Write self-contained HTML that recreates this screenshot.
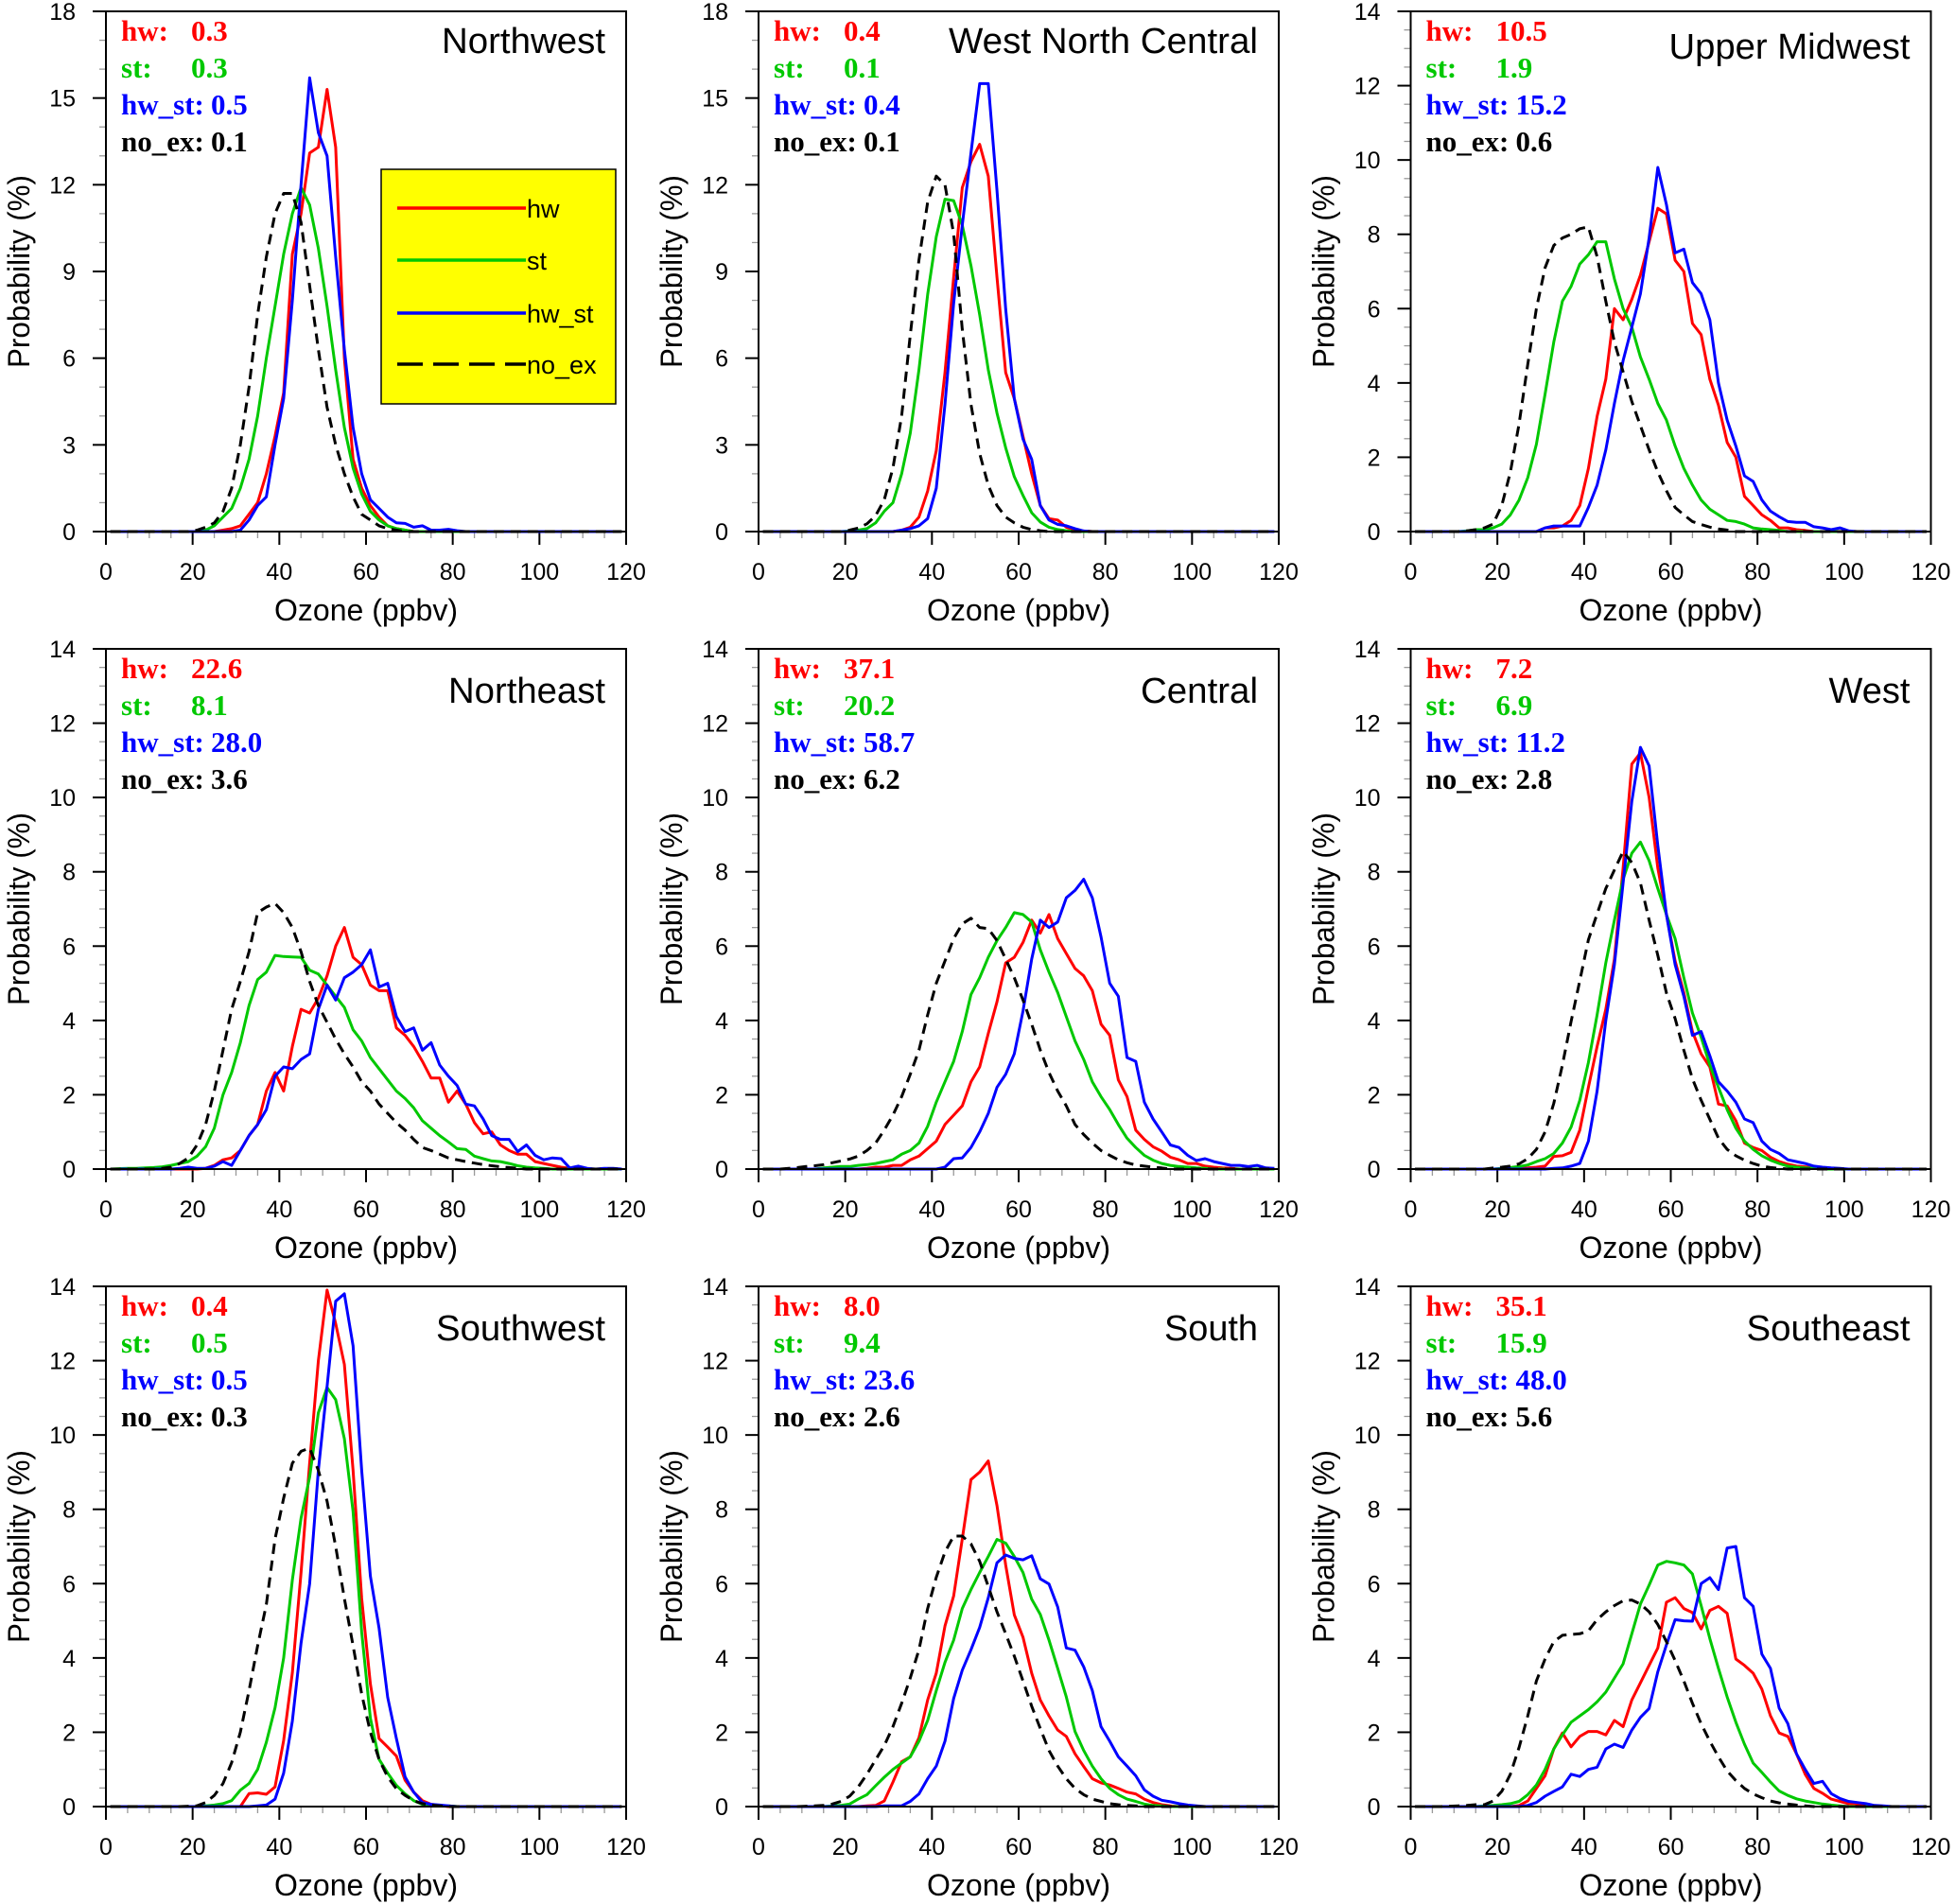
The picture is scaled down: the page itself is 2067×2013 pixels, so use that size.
<!DOCTYPE html>
<html><head><meta charset="utf-8"><title>Ozone PDFs</title>
<style>html,body{margin:0;padding:0;background:#fff}svg{display:block}</style></head>
<body>
<svg id="fig" xmlns="http://www.w3.org/2000/svg" width="2067" height="2013" viewBox="0 0 2067 2013">
<rect x="0" y="0" width="2067" height="2013" fill="#fff"/>
</svg>
<script>
// ---- data (2 ppbv bins centred at 1,3,...,119) ----
const regions = ["Northwest","West North Central","Upper Midwest","Northeast","Central","West","Southwest","South","Southeast"];
const yMaxes = [18,18,14,14,14,14,14,14,14];
const xTicks = [0,20,40,60,80,100,120];
const statHw   = ["0.3","0.4","10.5","22.6","37.1","7.2","0.4","8.0","35.1"];
const statSt   = ["0.3","0.1","1.9","8.1","20.2","6.9","0.5","9.4","15.9"];
const statHwSt = ["0.5","0.4","15.2","28.0","58.7","11.2","0.5","23.6","48.0"];
const statNoEx = ["0.1","0.1","0.6","3.6","6.2","2.8","0.3","2.6","5.6"];
const seriesNames = ["hw","st","hw_st","no_ex"];

const startHw   = [27,33,31,23,25,25,31,25,25];
const startSt   = [23,21,13,3,15,21,23,17,17];
const startHwSt = [31,33,31,17,43,33,35,29,27];
const startNoEx = [21,21,13,13,7,19,19,11,9];

const nwHw = [0.05,0.1,0.2,0.6,1.0,2.0,3.3,4.8,9.6,11,13.1,13.3,15.3,13.3,6,2.5,1.5,0.9,0.5,0.2,0.1,0.05];
const nwSt = [0.05,0.2,0.5,0.8,1.5,2.5,4,6,7.8,9.6,11,11.9,11.3,9.8,7.8,5.6,3.6,2.2,1.3,0.7,0.4,0.2,0.1,0.05];
const nwHwSt = [0.05,0.4,0.9,1.2,3.0,4.6,8,12,15.7,13.8,13,9.5,6.3,3.6,2.0,1.1,0.8,0.5,0.3,0.28,0.15,0.2,0.05,0.05,0.08,0.03];
const nwNoEx = [0.05,0.15,0.3,0.7,1.5,3.0,5.0,7.5,9.5,11,11.7,11.7,10.7,8.5,6.3,4.3,3.0,2.0,1.2,0.6,0.4,0.2,0.1,0.05];

const wncHw = [0.05,0.15,0.5,1.4,2.8,5.5,8.8,11.9,12.8,13.4,12.3,8.8,5.5,4.6,3.3,2.0,0.9,0.45,0.4,0.15,0.05,0.02];
const wncSt = [0.02,0.05,0.1,0.3,0.7,1.0,2.0,3.4,5.6,8.2,10.2,11.5,11.45,10.6,9.2,7.5,5.6,4.1,2.9,1.9,1.25,0.65,0.33,0.15,0.07,0.03];
const wncHwSt = [0.05,0.1,0.2,0.45,1.5,4.4,7.9,10.6,13.1,15.5,15.5,11.8,7.7,4.6,3.2,2.5,0.9,0.4,0.25,0.2,0.1,0.02];
const wncNoEx = [0.05,0.12,0.27,0.55,1.1,2.2,4.0,6.8,9.4,11.4,12.3,12.0,10.3,7.0,4.4,2.7,1.6,0.9,0.5,0.3,0.15,0.07,0.03];

const umHw = [0.1,0.1,0.15,0.3,0.7,1.7,3.1,4.1,6.0,5.7,6.25,6.9,7.8,8.7,8.55,7.3,7.0,5.6,5.3,4.1,3.4,2.4,2.0,0.95,0.7,0.45,0.3,0.1,0.1,0.05,0.03];
const umSt = [0.02,0.05,0.05,0.1,0.2,0.45,0.85,1.45,2.35,3.7,5.1,6.2,6.6,7.2,7.45,7.8,7.8,6.8,6.0,5.5,4.7,4.1,3.45,3.0,2.3,1.7,1.25,0.85,0.6,0.45,0.3,0.27,0.2,0.1,0.07,0.05,0.03];
const umHwSt = [0.1,0.15,0.15,0.15,0.15,0.65,1.25,2.2,3.45,4.6,5.5,6.4,7.9,9.8,8.8,7.5,7.6,6.7,6.4,5.7,4.0,3.0,2.3,1.5,1.35,0.85,0.55,0.4,0.27,0.25,0.25,0.13,0.1,0.05,0.1,0.02];
const umNoEx = [0.02,0.05,0.1,0.2,0.7,1.6,2.9,4.5,6.0,7.1,7.7,7.9,8.0,8.15,8.2,7.4,6.2,5.1,4.3,3.5,2.85,2.2,1.6,1.1,0.65,0.45,0.27,0.19,0.12,0.07,0.04];

const neHw = [0.02,0.1,0.25,0.3,0.5,0.9,1.2,2.1,2.6,2.1,3.3,4.3,4.2,4.6,5.2,6.0,6.5,5.7,5.5,4.95,4.8,4.8,3.8,3.6,3.3,2.9,2.45,2.45,1.8,2.1,1.75,1.25,0.95,1.0,0.65,0.5,0.4,0.4,0.2,0.15,0.1,0.05,0.02];
const neSt = [0.01,0.02,0.02,0.03,0.04,0.06,0.1,0.15,0.2,0.35,0.6,1.1,2.0,2.6,3.4,4.4,5.1,5.3,5.75,5.72,5.71,5.7,5.35,5.25,4.95,4.65,4.35,3.75,3.45,3.0,2.7,2.4,2.1,1.9,1.65,1.3,1.1,0.9,0.73,0.55,0.53,0.35,0.28,0.22,0.2,0.15,0.09,0.05,0.03,0.02];
const neHwSt = [0.02,0.05,0.02,0.02,0.08,0.2,0.1,0.5,0.9,1.2,1.6,2.5,2.75,2.7,2.95,3.1,4.3,4.95,4.55,5.15,5.3,5.5,5.9,4.9,5.0,4.1,3.7,3.8,3.2,3.4,2.8,2.5,2.25,1.75,1.7,1.35,0.9,0.8,0.8,0.47,0.65,0.37,0.25,0.3,0.28,0.03,0.08,0.02,0,0.02,0.02];
const neNoEx = [0.02,0.05,0.15,0.3,0.65,1.2,2.1,3.2,4.3,5.05,5.85,6.9,7.05,7.15,6.9,6.5,5.85,5.05,4.4,3.95,3.5,3.1,2.75,2.35,2.1,1.75,1.5,1.25,1.05,0.8,0.58,0.5,0.4,0.3,0.25,0.2,0.16,0.12,0.09,0.06,0.04,0.02];

const ceHw = [0.02,0.05,0.05,0.1,0.1,0.25,0.35,0.55,0.75,1.2,1.45,1.7,2.35,2.75,3.65,4.5,5.55,5.7,6.1,6.7,6.35,6.85,6.2,5.8,5.4,5.2,4.8,3.9,3.6,2.4,1.95,1.05,0.8,0.6,0.48,0.32,0.25,0.15,0.15,0.08,0.05,0.03,0.02];
const ceSt = [0.03,0.05,0.07,0.07,0.1,0.12,0.15,0.2,0.25,0.4,0.5,0.7,1.15,1.8,2.35,2.9,3.7,4.7,5.15,5.7,6.15,6.5,6.9,6.85,6.65,5.9,5.3,4.75,4.1,3.45,2.95,2.35,1.95,1.6,1.2,0.83,0.58,0.37,0.24,0.15,0.1,0.07,0.05,0.03,0.02];
const ceHwSt = [0.05,0.28,0.3,0.58,1.0,1.5,2.2,2.55,3.1,4.25,5.65,6.7,6.5,6.65,7.3,7.5,7.8,7.3,6.25,5.0,4.65,3.0,2.9,1.8,1.35,1.0,0.65,0.58,0.37,0.23,0.28,0.2,0.15,0.1,0.1,0.07,0.1,0.03,0.02];
const ceNoEx = [0.02,0.04,0.07,0.09,0.12,0.17,0.22,0.27,0.35,0.5,0.7,1.05,1.45,1.95,2.55,3.2,4.15,5.0,5.6,6.2,6.6,6.75,6.5,6.47,6.15,5.65,5.15,4.55,3.9,3.2,2.6,2.1,1.7,1.2,0.93,0.7,0.5,0.37,0.25,0.17,0.11,0.08,0.05,0.03];

const weHw = [0.02,0.03,0.05,0.08,0.34,0.36,0.45,1.05,2.2,3.3,4.3,5.65,8.1,10.9,11.2,10.0,8.1,6.85,5.6,4.75,3.7,3.1,2.75,1.75,1.7,1.3,0.7,0.58,0.5,0.32,0.2,0.13,0.08,0.06,0.04,0.02];
const weSt = [0.02,0.04,0.07,0.11,0.2,0.28,0.42,0.7,1.13,1.85,2.87,4.15,5.55,6.7,7.8,8.5,8.8,8.3,7.55,6.85,6.2,5.15,4.2,3.55,2.8,2.2,1.6,1.1,0.75,0.53,0.36,0.24,0.15,0.08,0.05,0.03,0.02];
const weHwSt = [0.02,0.03,0.08,0.15,0.75,2.1,4.0,5.5,7.7,9.9,11.35,10.85,8.7,6.85,5.5,4.65,3.6,3.7,3.05,2.35,2.1,1.8,1.35,1.25,0.75,0.53,0.42,0.25,0.2,0.15,0.08,0.05,0.03,0.02];
const weNoEx = [0.03,0.05,0.08,0.14,0.28,0.53,1.0,1.77,2.8,3.97,5.07,6.17,6.87,7.55,8.05,8.55,8.25,7.7,6.7,5.75,4.74,4.05,3.2,2.43,1.85,1.34,0.83,0.53,0.36,0.24,0.15,0.08,0.04,0.02];

const swHw = [0.0,0.35,0.37,0.33,0.53,1.78,3.6,6.3,9.25,12.0,13.9,13.0,11.9,9.05,5.6,3.3,1.83,1.6,1.36,0.71,0.39,0.16,0.06,0.03];
const swSt = [0.02,0.04,0.08,0.16,0.44,0.62,1.0,1.73,2.66,4.0,6.1,7.76,8.87,10.6,11.28,10.95,9.9,7.94,4.7,2.38,1.27,0.9,0.57,0.34,0.16,0.06,0.03,0.02,0.02];
const swHwSt = [0.02,0.04,0.2,0.9,2.3,4.4,6.0,9.05,11.3,13.6,13.8,12.4,9.05,6.2,4.8,2.94,1.83,0.8,0.39,0.11,0.06,0.04,0.02];
const swNoEx = [0.01,0.02,0.11,0.3,0.62,1.18,2.0,3.12,4.33,5.44,7.2,8.3,9.24,9.56,9.65,9.05,8.22,7.0,5.6,4.33,3.03,2.0,1.27,0.8,0.48,0.3,0.16,0.08,0.04,0.02];

const soHw = [0.02,0.03,0.15,0.66,1.21,1.34,1.85,2.87,3.59,4.86,5.67,7.2,8.8,9.0,9.3,8.1,6.5,5.16,4.56,3.59,2.87,2.44,2.06,1.89,1.42,1.08,0.75,0.64,0.58,0.49,0.39,0.34,0.2,0.11,0.05,0.02];
const soSt = [0.02,0.03,0.07,0.2,0.32,0.56,0.79,1.0,1.17,1.34,1.76,2.32,3.12,3.88,4.48,5.33,5.84,6.3,6.73,7.19,7.09,6.73,6.3,5.58,5.17,4.48,3.72,2.95,2.02,1.51,1.09,0.75,0.49,0.32,0.2,0.14,0.07,0.03,0.02];
const soHwSt = [0.02,0.02,0.02,0.14,0.34,0.75,1.09,1.76,2.91,3.67,4.22,4.82,5.62,6.56,6.77,6.68,6.64,6.75,6.13,5.99,5.37,4.27,4.21,3.76,3.12,2.15,1.76,1.34,1.09,0.83,0.45,0.28,0.17,0.13,0.08,0.04,0.02];
const soNoEx = [0.01,0.02,0.03,0.07,0.14,0.28,0.53,0.87,1.26,1.64,2.15,2.78,3.46,4.22,5.33,6.17,6.85,7.28,7.28,7.07,6.6,5.92,5.24,4.65,4.05,3.38,2.7,2.1,1.51,1.09,0.75,0.49,0.32,0.2,0.14,0.08,0.05,0.03,0.02];

const seHw = [0.03,0.15,0.49,0.83,1.55,1.98,1.61,1.89,2.02,2.02,1.93,2.32,2.15,2.87,3.33,3.8,4.27,5.5,5.62,5.33,5.22,4.78,5.28,5.39,5.2,3.97,3.8,3.59,3.16,2.44,1.98,1.89,1.42,0.87,0.49,0.36,0.2,0.14,0.08,0.07,0.03,0.02];
const seSt = [0.02,0.03,0.05,0.08,0.14,0.32,0.58,1.0,1.55,1.93,2.27,2.44,2.61,2.82,3.08,3.46,3.84,4.65,5.45,5.96,6.5,6.6,6.56,6.5,6.26,5.41,4.52,3.72,2.95,2.27,1.68,1.17,0.92,0.66,0.42,0.3,0.21,0.15,0.11,0.07,0.04,0.02];
const seHwSt = [0.03,0.11,0.28,0.41,0.53,0.87,0.81,1.0,1.06,1.55,1.68,1.59,2.06,2.4,2.64,3.63,4.35,5.03,5.0,4.99,6.0,6.16,5.84,6.96,7.0,5.62,5.39,4.1,3.72,2.65,2.23,1.42,1.0,0.62,0.68,0.35,0.22,0.14,0.11,0.08,0.03,0.02];
const seNoEx = [0.01,0.02,0.03,0.05,0.05,0.15,0.41,0.87,1.59,2.44,3.38,3.97,4.44,4.61,4.63,4.65,4.73,5.03,5.24,5.41,5.54,5.56,5.45,5.24,4.9,4.44,3.93,3.38,2.78,2.23,1.76,1.34,0.96,0.7,0.49,0.34,0.24,0.15,0.1,0.07,0.04,0.02];

const hwData   = [nwHw,wncHw,umHw,neHw,ceHw,weHw,swHw,soHw,seHw];
const stData   = [nwSt,wncSt,umSt,neSt,ceSt,weSt,swSt,soSt,seSt];
const hwStData = [nwHwSt,wncHwSt,umHwSt,neHwSt,ceHwSt,weHwSt,swHwSt,soHwSt,seHwSt];
const noExData = [nwNoEx,wncNoEx,umNoEx,neNoEx,ceNoEx,weNoEx,swNoEx,soNoEx,seNoEx];

// ---- drawing ----
const NS = "http://www.w3.org/2000/svg";
const svg = document.getElementById("fig");
const colLeft = [112, 802, 1491.5];
const rowTop = [12, 686, 1360];
const W = 550, H = 550;
const colors = ["#ff0000","#00c800","#0000ff","#000000"];

function mk(tag, attrs, parent){
  const e = document.createElementNS(NS, tag);
  for (const k in attrs) e.setAttribute(k, attrs[k]);
  (parent||svg).appendChild(e);
  return e;
}
function fullSeries(x0, vals){
  const out = new Array(60).fill(0);
  const i0 = (x0-1)/2;
  vals.forEach((v,i)=>{ if(i0+i<60) out[i0+i]=v; });
  return out;
}

regions.forEach((name, p) => {
  const L = colLeft[p%3], T = rowTop[Math.floor(p/3)];
  const ymax = yMaxes[p];
  const xs = v => L + v/120*W;
  const ys = v => T + H - v/ymax*H;
  const g = mk("g", {});
  
  

  const yMinor = ymax===18 ? 1 : 0.5;
  for (let v=0; v<=ymax+1e-6; v+=yMinor){
    const t = mk("line", {x1:L-7, x2:L, y1:ys(v), y2:ys(v), stroke:"#999", "stroke-width":1.3}, g);
    
    
  }
  for (let v=0; v<=120; v+=5){
    const t = mk("line", {x1:xs(v), x2:xs(v), y1:T+H, y2:T+H+7, stroke:"#999", "stroke-width":1.3}, g);
    
    
  }
  const yStep = ymax===18 ? 3 : 2;
  for (let v=0; v<=ymax; v+=yStep){
    const t = mk("line", {x1:L-14, x2:L, y1:ys(v), y2:ys(v), stroke:"#000", "stroke-width":2}, g);
    
    
    const tx = mk("text", {x:L-32, y:ys(v)+9, "text-anchor":"end", "font-family":"Liberation Sans, sans-serif", "font-size":25}, g);
    tx.textContent = String(v);
    
    
  }
  xTicks.forEach(v => {
    const t = mk("line", {x1:xs(v), x2:xs(v), y1:T+H, y2:T+H+14, stroke:"#000", "stroke-width":2}, g);
    
    
    const tx = mk("text", {x:xs(v), y:T+H+51, "text-anchor":"middle", "font-family":"Liberation Sans, sans-serif", "font-size":25}, g);
    tx.textContent = String(v);
    
    
  });

  const all = [
    fullSeries(startHw[p], hwData[p]),
    fullSeries(startSt[p], stData[p]),
    fullSeries(startHwSt[p], hwStData[p]),
    fullSeries(startNoEx[p], noExData[p])
  ];
  all.forEach((arr, si) => {
    let d = "";
    arr.forEach((v,i)=>{ const x = 1+2*i; d += (i?"L":"M") + xs(x).toFixed(1) + " " + ys(v).toFixed(1); });
    const attrs = {d:d, fill:"none", stroke:colors[si], "stroke-width":3, "stroke-linejoin":"round"};
    if (si===3) attrs["stroke-dasharray"] = "11 7";
    const path = mk("path", attrs, g);
    
    
  });

  const fr = mk("rect", {x:L, y:T, width:W, height:H, fill:"none", stroke:"#000", "stroke-width":2}, g);
  
  

  const xt = mk("text", {x:L+W/2, y:T+H+94, "text-anchor":"middle", "font-family":"Liberation Sans, sans-serif", "font-size":32, textLength:194, lengthAdjust:"spacingAndGlyphs"}, g);
  xt.textContent = "Ozone (ppbv)";
  
  
  const cy = T+H/2, cx = L-81;
  const yt = mk("text", {x:cx, y:cy, "text-anchor":"middle", transform:`rotate(-90 ${cx} ${cy})`, "font-family":"Liberation Sans, sans-serif", "font-size":32, textLength:204, lengthAdjust:"spacingAndGlyphs"}, g);
  yt.textContent = "Probability (%)";
  
  

  const titleW = [173,327,255,166,124,86,179,99,173][p];
  const titleDy = p===2 ? 50 : (p<3 ? 44 : 57);
  const rt = mk("text", {x:L+W-22-titleW, y:T+titleDy, "font-family":"Liberation Sans, sans-serif", "font-size":38, textLength:titleW, lengthAdjust:"spacingAndGlyphs"}, g);
  rt.textContent = name;
  
  

  const labels = ["hw:","st:","hw_st:","no_ex:"];
  const vals = [statHw[p], statSt[p], statHwSt[p], statNoEx[p]];
  labels.forEach((lb, i) => {
    const y = T + 31 + i*39;
    const t1 = mk("text", {x:L+16, y:y, fill:colors[i], "font-family":"Liberation Serif, serif", "font-weight":"bold", "font-size":31}, g);
    t1.textContent = lb;
    
    
    const t2 = mk("text", {x:L+(i<2?90:111), y:y, fill:colors[i], "font-family":"Liberation Serif, serif", "font-weight":"bold", "font-size":31}, g);
    t2.textContent = vals[i];
    
    
  });

  if (p===0){
    const lg = mk("g", {}, g);
    
    
    const bx = mk("rect", {x:403, y:179, width:248, height:248, fill:"#ffff00", stroke:"#000", "stroke-width":1.5}, lg);
    
    
    const ly = [220,275,331,385];
    seriesNames.forEach((s,i)=>{
      const la = {x1:420, x2:556, y1:ly[i], y2:ly[i], stroke:colors[i], "stroke-width":3.5};
      if (i===3) la["stroke-dasharray"] = "27 11";
      const ln = mk("line", la, lg);
      
      
      const tx = mk("text", {x:557, y:ly[i]+10, "font-family":"Liberation Sans, sans-serif", "font-size":27}, lg);
      tx.textContent = s;
      
      
    });
  }
});
</script>
</body></html>
